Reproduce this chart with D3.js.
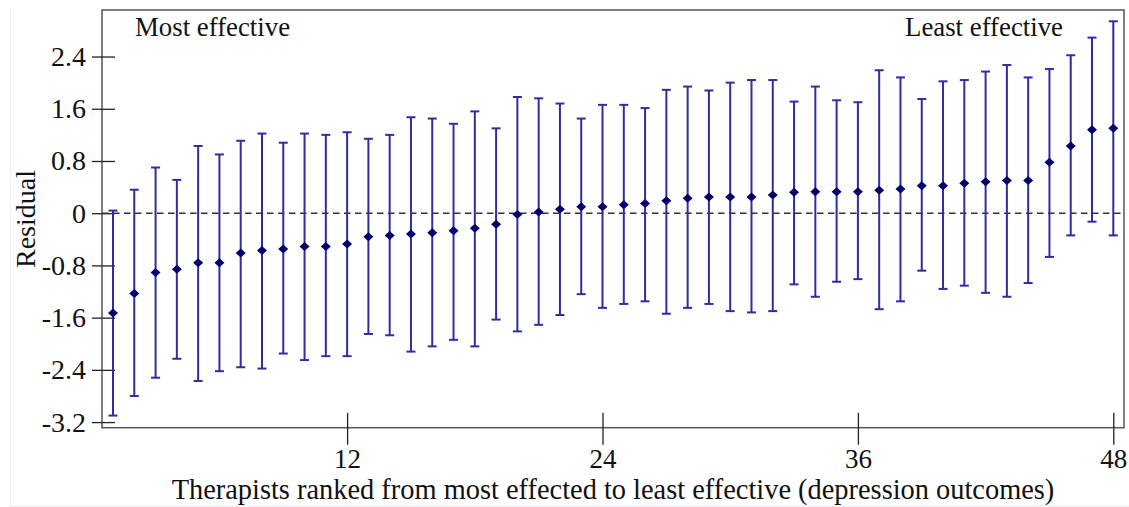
<!DOCTYPE html>
<html>
<head>
<meta charset="utf-8">
<script src="https://d3js.org/d3.v7.min.js"></script>
<style>
  body { margin: 0; background: #fff; }
  svg { display: block; }
  svg text { font-family: "Liberation Serif", "Times New Roman", serif; }
</style>
</head>
<body>
<script>
// therapist rank 1..48, residual estimate and its interval
let ranks = d3.range(1, 49);
let means = [-1.53,-1.23,-0.91,-0.86,-0.76,-0.76,-0.61,-0.57,-0.55,-0.51,
             -0.51,-0.47,-0.36,-0.34,-0.32,-0.30,-0.27,-0.23,-0.17,-0.02,
              0.02, 0.06, 0.10, 0.10, 0.13, 0.15, 0.19, 0.23, 0.25, 0.25,
              0.25, 0.28, 0.32, 0.33, 0.33, 0.33, 0.35, 0.37, 0.42, 0.42,
              0.46, 0.48, 0.50, 0.50, 0.78, 1.03, 1.28, 1.30];
let upper = [0.04,0.36,0.70,0.51,1.03,0.90,1.11,1.22,1.08,1.22,
             1.20,1.24,1.14,1.20,1.47,1.45,1.37,1.56,1.30,1.78,
             1.76,1.68,1.45,1.66,1.66,1.61,1.89,1.94,1.88,2.00,
             2.04,2.04,1.71,1.94,1.73,1.70,2.19,2.08,1.75,2.02,
             2.04,2.17,2.27,2.08,2.21,2.42,2.69,2.94];
let lower = [-3.10,-2.80,-2.52,-2.23,-2.57,-2.42,-2.36,-2.38,-2.15,-2.25,
             -2.19,-2.19,-1.85,-1.87,-2.12,-2.04,-1.94,-2.04,-1.63,-1.81,
             -1.71,-1.56,-1.24,-1.45,-1.39,-1.35,-1.54,-1.45,-1.39,-1.50,
             -1.52,-1.50,-1.09,-1.28,-1.05,-1.01,-1.47,-1.35,-0.88,-1.16,
             -1.11,-1.22,-1.28,-1.07,-0.67,-0.34,-0.13,-0.34];
let xTicks = [12, 24, 36, 48];
let yTicks = [-3.2, -2.4, -1.6, -0.8, 0, 0.8, 1.6, 2.4];

init();

function init() {
  let width = 1129,
      height = 507,
      margin = {l: 102, r: 5, t: 10, b: 79.3},
      w = width - margin.l - margin.r,
      h = height - margin.t - margin.b;

  let svg = d3.select("body")
              .append("svg")
              .attr("width", width)
              .attr("height", height);

  // faint frame of the original screenshot
  svg.append("line")
     .attr("x1", 10).attr("x2", width).attr("y1", 506).attr("y2", 506)
     .style("stroke", "#e3ebf5").style("stroke-width", 1);
  svg.append("line")
     .attr("x1", 10.5).attr("x2", 10.5).attr("y1", 8).attr("y2", 506)
     .style("stroke", "#eef2f8").style("stroke-width", 1);

  let g = svg.append("g")
             .attr("transform", "translate(" + margin.l + "," + margin.t + ")");

  let x = d3.scaleLinear().domain([0.483, 48.503]).range([0, w]);
  let y = d3.scaleLinear().domain([-3.286, 3.113]).range([h, 0]);

  // plot frame
  g.append("rect")
   .attr("width", w)
   .attr("height", h)
   .style("fill", "none")
   .style("stroke", "#555")
   .style("stroke-width", 1.5);

  // y axis, ticks crossing the left edge
  let yAxis = g.append("g")
               .call(d3.axisLeft(y).tickValues(yTicks).tickSize(0).tickPadding(16)
                        .tickFormat(d => String(d)));
  yAxis.select(".domain").remove();
  yAxis.selectAll(".tick line")
       .attr("x1", -10).attr("x2", 13)
       .style("stroke", "#222").style("stroke-width", 1.3);
  yAxis.selectAll("text")
       .style("font-family", "'Liberation Serif', serif")
       .style("font-size", "28px")
       .style("fill", "#111");

  // x axis
  let xAxis = g.append("g")
               .attr("transform", "translate(0," + h + ")")
               .call(d3.axisBottom(x).tickValues(xTicks).tickSize(0).tickPadding(21));
  xAxis.select(".domain").remove();
  xAxis.selectAll(".tick line")
       .attr("y1", -15).attr("y2", 17)
       .style("stroke", "#222").style("stroke-width", 1.3);
  xAxis.selectAll("text")
       .style("font-family", "'Liberation Serif', serif")
       .style("font-size", "27px")
       .style("fill", "#111");

  // zero reference line
  g.append("line")
   .attr("x1", 0).attr("x2", w)
   .attr("y1", y(0)).attr("y2", y(0))
   .style("stroke", "#333")
   .style("stroke-width", 1.5)
   .style("stroke-dasharray", "6.5,4.5");

  // error bars
  let bars = g.append("g")
              .selectAll("g")
              .data(ranks)
              .enter()
              .append("g")
              .style("stroke", "#2e2e9e")
              .style("stroke-width", 2);
  bars.append("line")
      .attr("x1", d => x(d)).attr("x2", d => x(d))
      .attr("y1", (d, i) => y(upper[i])).attr("y2", (d, i) => y(lower[i]));
  bars.append("line")
      .attr("x1", d => x(d) - 4.5).attr("x2", d => x(d) + 4.5)
      .attr("y1", (d, i) => y(upper[i])).attr("y2", (d, i) => y(upper[i]));
  bars.append("line")
      .attr("x1", d => x(d) - 4.5).attr("x2", d => x(d) + 4.5)
      .attr("y1", (d, i) => y(lower[i])).attr("y2", (d, i) => y(lower[i]));

  // diamond markers
  g.append("g")
   .selectAll("path")
   .data(ranks)
   .enter()
   .append("path")
   .attr("d", (d, i) => {
      let cx = x(d), cy = y(means[i]);
      return "M" + (cx - 5) + "," + cy + "L" + cx + "," + (cy - 4.5) +
             "L" + (cx + 5) + "," + cy + "L" + cx + "," + (cy + 4.5) + "Z";
   })
   .style("fill", "#00006e");

  // annotations
  g.append("text")
   .text("Most effective")
   .attr("x", 135 - margin.l)
   .attr("y", 36 - margin.t)
   .style("font-size", "26.8px")
   .style("fill", "#111");
  g.append("text")
   .text("Least effective")
   .attr("x", 1063 - margin.l)
   .attr("y", 36 - margin.t)
   .style("text-anchor", "end")
   .style("font-size", "26.8px")
   .style("fill", "#111");

  // axis titles
  svg.append("text")
     .text("Therapists ranked from most effected to least effective (depression outcomes)")
     .attr("x", 613)
     .attr("y", 499)
     .style("text-anchor", "middle")
     .style("font-size", "28.4px")
     .style("fill", "#111");
  svg.append("text")
     .text("Residual")
     .attr("transform", "translate(35,219) rotate(-90)")
     .style("text-anchor", "middle")
     .style("font-size", "28px")
     .style("fill", "#111");
}
</script>
</body>
</html>
